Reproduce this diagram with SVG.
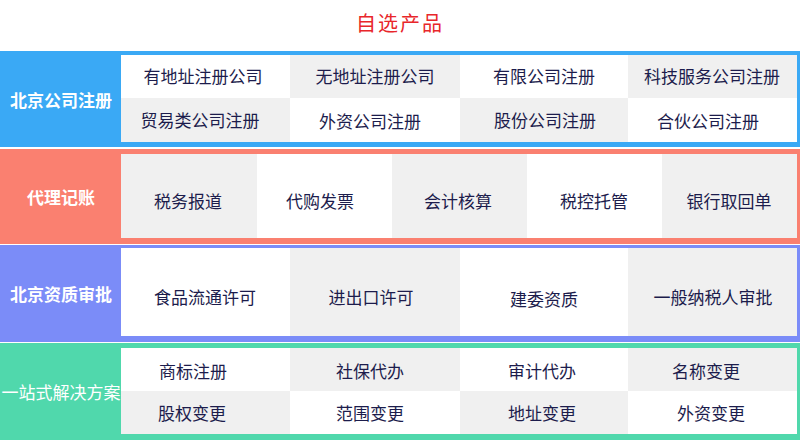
<svg xmlns="http://www.w3.org/2000/svg" width="800" height="447" viewBox="0 0 800 447">
<style>
.w{fill:#ffffff}.g{fill:#f0f0f0}
.t{font-family:"Noto Sans CJK SC",sans-serif;font-size:17px;fill:#1c1c4c;text-anchor:middle;dominant-baseline:central}
.h{font-family:"Noto Sans CJK SC",sans-serif;font-size:17px;font-weight:bold;fill:#ffffff;text-anchor:middle;dominant-baseline:central}
</style>
<rect width="800" height="447" fill="#ffffff"/>
<text x="400" y="22" font-family="Noto Sans CJK SC,sans-serif" font-size="20" fill="#e8262a" text-anchor="middle" dominant-baseline="central" letter-spacing="2">自选产品</text>
<g id="sec1">
<rect x="0" y="51" width="800" height="96" fill="#3aa9f5"/>
<rect class="w" x="121" y="55" width="169" height="43"/><rect class="g" x="290" y="55" width="170" height="43"/><rect class="w" x="460" y="55" width="168" height="43"/><rect class="g" x="628" y="55" width="169" height="43"/>
<rect class="g" x="121" y="98" width="169" height="44"/><rect class="w" x="290" y="98" width="170" height="44"/><rect class="g" x="460" y="98" width="168" height="44"/><rect class="w" x="628" y="98" width="169" height="44"/>
<text class="h" x="61" y="99">北京公司注册</text>
<text class="t" x="203" y="75">有地址注册公司</text><text class="t" x="375" y="75">无地址注册公司</text><text class="t" x="544" y="75">有限公司注册</text><text class="t" x="712" y="75">科技服务公司注册</text>
<text class="t" x="200" y="119">贸易类公司注册</text><text class="t" x="370" y="120">外资公司注册</text><text class="t" x="545" y="119">股份公司注册</text><text class="t" x="708" y="120">合伙公司注册</text>
</g>
<g id="sec2">
<rect x="0" y="149" width="800" height="95" fill="#fa8070"/>
<rect class="g" x="121" y="154" width="136" height="84"/><rect class="w" x="257" y="154" width="135" height="84"/><rect class="g" x="392" y="154" width="135" height="84"/><rect class="w" x="527" y="154" width="135" height="84"/><rect class="g" x="662" y="154" width="135" height="84"/>
<text class="h" x="61" y="196">代理记账</text>
<text class="t" x="188" y="200">税务报道</text><text class="t" x="320" y="200">代购发票</text><text class="t" x="458" y="200">会计核算</text><text class="t" x="594" y="200">税控托管</text><text class="t" x="729" y="200">银行取回单</text>
</g>
<g id="sec3">
<rect x="0" y="245" width="800" height="97" fill="#7b8cf8"/>
<rect class="w" x="121" y="248" width="169" height="88"/><rect class="g" x="290" y="248" width="170" height="88"/><rect class="w" x="460" y="248" width="168" height="88"/><rect class="g" x="628" y="248" width="169" height="88"/>
<text class="h" x="61" y="293">北京资质审批</text>
<text class="t" x="205" y="296">食品流通许可</text><text class="t" x="371" y="296">进出口许可</text><text class="t" x="544" y="298">建委资质</text><text class="t" x="713" y="296">一般纳税人审批</text>
</g>
<g id="sec4">
<rect x="0" y="343" width="800" height="97" fill="#50d8ac"/>
<rect class="w" x="121" y="348" width="169" height="43"/><rect class="g" x="290" y="348" width="170" height="43"/><rect class="w" x="460" y="348" width="168" height="43"/><rect class="g" x="628" y="348" width="169" height="43"/>
<rect class="g" x="121" y="391" width="169" height="43"/><rect class="w" x="290" y="391" width="170" height="43"/><rect class="g" x="460" y="391" width="168" height="43"/><rect class="w" x="628" y="391" width="169" height="43"/>
<text class="h" x="61" y="391" style="font-weight:normal">一站式解决方案</text>
<text class="t" x="193" y="370">商标注册</text><text class="t" x="370" y="370">社保代办</text><text class="t" x="542" y="370">审计代办</text><text class="t" x="706" y="370">名称变更</text>
<text class="t" x="192" y="412">股权变更</text><text class="t" x="370" y="412">范围变更</text><text class="t" x="542" y="412">地址变更</text><text class="t" x="711" y="412">外资变更</text>
</g>
</svg>
